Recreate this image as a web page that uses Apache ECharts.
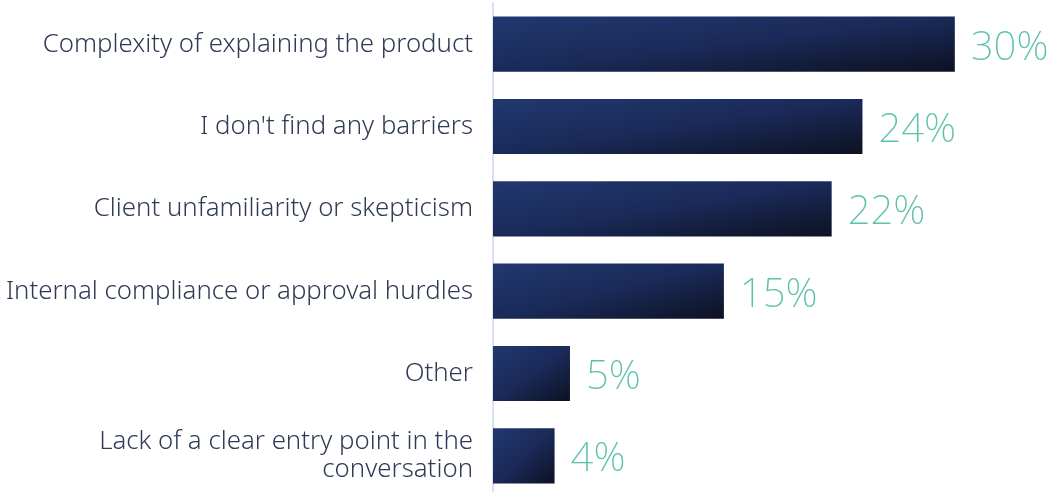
<!DOCTYPE html>
<html>
<head>
<meta charset="utf-8">
<script src="https://cdn.jsdelivr.net/npm/echarts@6/dist/echarts.min.js"></script>
<style>
  html, body { margin: 0; padding: 0; background: #ffffff; }
  #chart { width: 1051px; height: 492px; }
</style>
</head>
<body>
<div id="chart"></div>
<script>
// Barriers reported, share of respondents (%)
const categories = [
  'Complexity of explaining the product',
  "I don't find any barriers",
  'Client unfamiliarity or skepticism',
  'Internal compliance or approval hurdles',
  'Other',
  'Lack of a clear entry point in the\nconversation'
];
const shares = [30, 24, 22, 15, 5, 4];

const AXIS_MAX = 33;
const GRID = { left: 493, right: 50, top: 3, height: 494 };
const BAR_GAP = 0.33;

const chart = echarts.init(document.getElementById('chart'), null, { renderer: 'canvas' });

// Diagonal fill whose bands run corner to corner of each bar,
// so long bars shade mostly top-to-bottom and short ones diagonally.
function barFill(value) {
  const plotW = 1051 - GRID.left - GRID.right;
  const w = Math.max(1, value / AXIS_MAX * plotW);
  const h = GRID.height / categories.length * (1 - BAR_GAP);
  const s = w * w + h * h;
  return new echarts.graphic.LinearGradient(0, 0, 2 * h * h / s, 2 * w * w / s, [
    { offset: 0, color: '#21386f' },
    { offset: 0.5, color: '#1a2a59' },
    { offset: 1, color: '#0d1122' }
  ]);
}

chart.setOption({
  animation: false,
  backgroundColor: '#ffffff',
  grid: {
    left: GRID.left, right: GRID.right, top: GRID.top, height: GRID.height,
    containLabel: false,
    outerBoundsMode: 'none'
  },
  xAxis: {
    type: 'value',
    min: 0,
    max: AXIS_MAX,
    show: false
  },
  yAxis: {
    type: 'category',
    data: categories,
    inverse: true,
    axisTick: { show: false },
    axisLine: { show: true, lineStyle: { color: '#dcdff0', width: 2 } },
    axisLabel: {
      margin: 20,
      color: '#2f3b56',
      fontFamily: 'Noto Sans',
      fontWeight: 300,
      fontSize: 25.8,
      lineHeight: 28,
      align: 'right'
    }
  },
  series: [{
    type: 'bar',
    data: shares.map(v => ({ value: v, itemStyle: { color: barFill(v) } })),
    barCategoryGap: (BAR_GAP * 100) + '%',
    label: {
      show: true,
      position: 'right',
      distance: 16,
      offset: [0, 4],
      formatter: '{c}%',
      color: '#5cc2aa',
      fontFamily: 'Noto Sans',
      fontWeight: 200,
      fontSize: 40
    }
  }]
});
</script>
</body>
</html>
